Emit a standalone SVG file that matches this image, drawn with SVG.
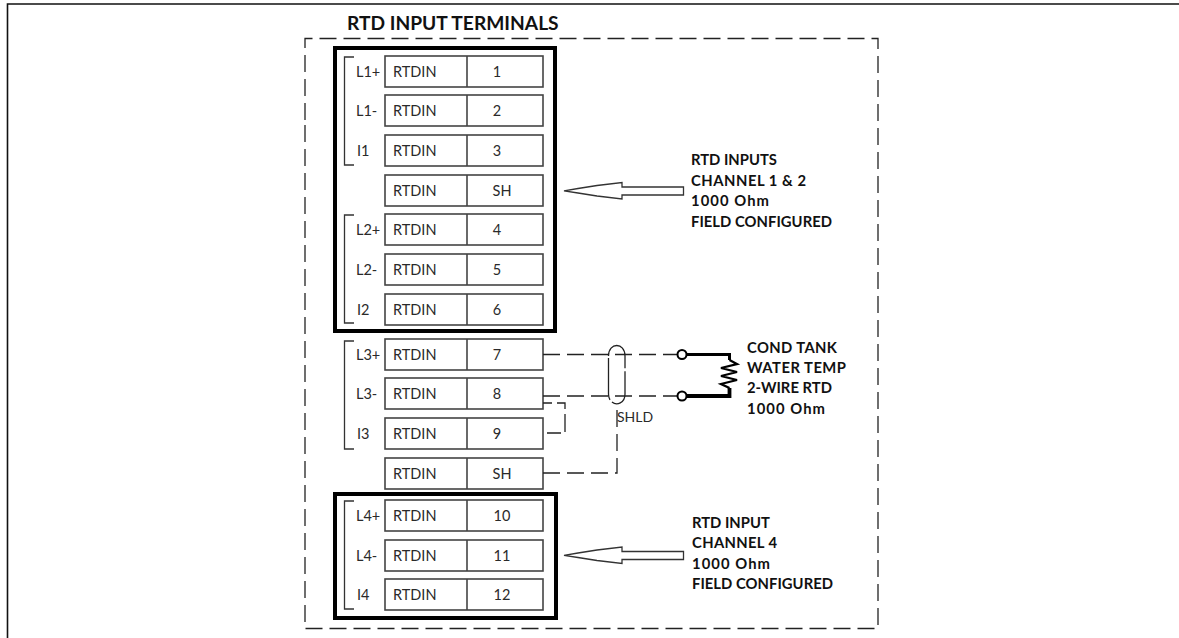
<svg xmlns="http://www.w3.org/2000/svg" width="1179" height="638" viewBox="0 0 1179 638">
<style>
text{font-family:"Lato","Liberation Sans",sans-serif;font-size:14.500px;fill:#2a2a2a}
.b{font-weight:700;font-size:14.800px;fill:#111}
.t{font-size:19.200px}
.box{fill:#fff;stroke:#444;stroke-width:1.600}
.thick{fill:none;stroke:#000;stroke-width:4}
.br{fill:none;stroke:#333;stroke-width:1.300}
.d{fill:none;stroke:#222;stroke-width:1.300;stroke-dasharray:17 7}
.w{fill:none;stroke:#000;stroke-width:3}
.arr{fill:#fff;stroke:#333;stroke-width:1.300}
.m{text-anchor:middle}
</style>
<defs>
<g id="row"><rect class="box" x="385" y="0" width="158" height="31"/><path class="box" d="M467 0V31"/><text x="393" y="21">RTDIN</text></g>
</defs>
<rect width="1179" height="638" fill="#fff"/>
<path d="M1179 4H7.500V638" fill="none" stroke="#111" stroke-width="1.600"/>
<text class="b t" x="347" y="30">RTD INPUT TERMINALS</text>
<path class="d" d="M305 120V38.500H878V628.500H305V120"/>
<g id="group-a">
<rect class="thick" x="335" y="48" width="220" height="283"/>
<path class="br" d="M354 57H344.500V165H354M354 215H344.500V323H354"/>
</g>
<g id="group-b">
<rect class="thick" x="335" y="494" width="221" height="124"/>
<path class="br" d="M354 501H344.500V609H354"/>
</g>
<path class="br" d="M354 341H344.500V449H354"/>
<g id="t1"><use href="#row" y="56"/><text x="356" y="77">L1+</text><text class="m" x="497" y="77">1</text></g>
<g id="t2"><use href="#row" y="95"/><text x="356" y="116">L1-</text><text class="m" x="497" y="116">2</text></g>
<g id="t3"><use href="#row" y="135"/><text x="357" y="156">I1</text><text class="m" x="497" y="156">3</text></g>
<g id="t4"><use href="#row" y="175"/><text class="m" x="502" y="196">SH</text></g>
<g id="t5"><use href="#row" y="214"/><text x="356" y="235">L2+</text><text class="m" x="497" y="235">4</text></g>
<g id="t6"><use href="#row" y="254"/><text x="356" y="275">L2-</text><text class="m" x="497" y="275">5</text></g>
<g id="t7"><use href="#row" y="294"/><text x="357" y="315">I2</text><text class="m" x="497" y="315">6</text></g>
<g id="t8"><use href="#row" y="339"/><text x="356" y="360">L3+</text><text class="m" x="497" y="360">7</text></g>
<g id="t9"><use href="#row" y="378"/><text x="356" y="399">L3-</text><text class="m" x="497" y="399">8</text></g>
<g id="t10"><use href="#row" y="418"/><text x="357" y="439">I3</text><text class="m" x="497" y="439">9</text></g>
<g id="t11"><use href="#row" y="458"/><text class="m" x="502" y="479">SH</text></g>
<g id="t12"><use href="#row" y="500"/><text x="356" y="521">L4+</text><text class="m" x="502" y="521">10</text></g>
<g id="t13"><use href="#row" y="540"/><text x="356" y="561">L4-</text><text class="m" x="502" y="561">11</text></g>
<g id="t14"><use href="#row" y="579"/><text x="357" y="600">I4</text><text class="m" x="502" y="600">12</text></g>
<g id="connectors">
<path class="d" d="M543 354.500H678"/>
<path class="d" d="M543 396H678"/>
<path class="d" style="stroke-dasharray:9 5 14 5 18 5 14 5" d="M543 403H565V433H543"/>
<path class="d" d="M543 473H617V403"/>
<path class="d" style="stroke-dasharray:42 3" d="M608.500 356C608.500 342 625 342 625 356V394C625 407 608.500 407 608.500 394V356Z"/>
</g>
<text x="617" y="422" style="font-size:14px">SHLD</text>
<g id="rtd">
<circle cx="682" cy="354.500" r="4.500" fill="#fff" stroke="#000" stroke-width="2"/>
<circle cx="682" cy="396" r="4.500" fill="#fff" stroke="#000" stroke-width="2"/>
<path class="w" d="M686.500 354.500H729.500V360"/>
<path d="M686.500 396H729.500V388" fill="none" stroke="#000" stroke-width="3.800"/>
<path d="M729.500 360L737 364L721 368L737 372L721 376L737 380L721 384L729.500 388" fill="none" stroke="#000" stroke-width="2.300"/>
<text class="b" x="747" y="353" textLength="90">COND TANK</text>
<text class="b" x="747" y="373" textLength="99">WATER TEMP</text>
<text class="b" x="747" y="393" textLength="85">2-WIRE RTD</text>
<text class="b" x="747" y="414" textLength="78">1000 Ohm</text>
</g>
<g id="note-a">
<path class="arr" d="M683.500 187H622V182.500L597 185.500L578 188.500L564 190.800L578 193L597 196L622 199V195H683.500Z"/>
<text class="b" x="691" y="165">RTD INPUTS</text>
<text class="b" x="691" y="186" textLength="115">CHANNEL 1 &amp; 2</text>
<text class="b" x="691" y="206" textLength="78">1000 Ohm</text>
<text class="b" x="691" y="227" textLength="141">FIELD CONFIGURED</text>
</g>
<g id="note-b">
<path class="arr" d="M683.500 551.500H622V547L597 550L578 553L564 555.300L578 557.500L597 560.500L622 563.500V559.500H683.500Z"/>
<text class="b" x="692" y="528">RTD INPUT</text>
<text class="b" x="692" y="548" textLength="85">CHANNEL 4</text>
<text class="b" x="692" y="569" textLength="78">1000 Ohm</text>
<text class="b" x="692" y="589" textLength="141">FIELD CONFIGURED</text>
</g>
</svg>
